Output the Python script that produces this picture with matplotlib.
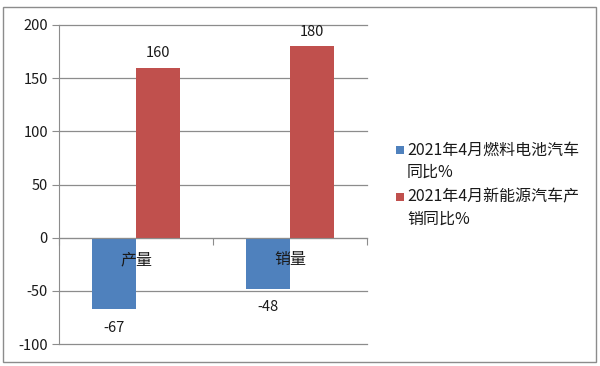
import matplotlib
matplotlib.use("Agg")
import matplotlib.pyplot as plt
from matplotlib.patches import Rectangle
import numpy as np

plt.rcParams['font.family'] = ['Noto Sans CJK SC', 'DejaVu Sans']

# data
categories = ["产量", "销量"]
fuel_cell = [-67, -48]
nev = [160, 180]
series_names = ["2021年4月燃料电池汽车\n同比%", "2021年4月新能源汽车产\n销同比%"]
y_ticks = [-100, -50, 0, 50, 100, 150, 200]

blue = "#4F81BD"
red = "#C0504D"

fig = plt.figure(figsize=(6, 3.66), dpi=100)
fig.patches.append(Rectangle((3 / 600, 1 - 362 / 366), 593 / 600, 355 / 366,
                             transform=fig.transFigure, fill=False,
                             edgecolor="#8c8c8c", linewidth=1.0))

ax = fig.add_axes([59 / 600, 1 - 344 / 366, 308 / 600, 319 / 366])
x = np.arange(len(categories))
w = 1 / 3.5
ax.bar(x - w / 2, fuel_cell, w, color=blue, zorder=3)
ax.bar(x + w / 2, nev, w, color=red, zorder=3)

for i in range(len(categories)):
    ax.text(x[i] - w / 2, fuel_cell[i] - 11, str(fuel_cell[i]), ha="center",
            va="top", fontsize=10.5, color="#1a1a1a")
    ax.text(x[i] + w / 2, nev[i] + 7, str(nev[i]), ha="center",
            va="bottom", fontsize=10.5, color="#1a1a1a")
    ax.text(x[i], -21, categories[i], ha="center", va="center",
            fontsize=11.5, color="#1a1a1a", zorder=4)

ax.set_xlim(-0.5, 1.5)
ax.set_ylim(-100, 200)
ax.set_yticks(y_ticks)
ax.set_yticklabels([str(t) for t in y_ticks], fontsize=10.5, color="#1a1a1a")
ax.yaxis.grid(True, color="#8c8c8c", linewidth=0.9, zorder=0)
ax.set_axisbelow(True)
for gl in ax.get_ygridlines():
    gl.set_clip_on(False)

ax.spines['top'].set_visible(False)
ax.spines['right'].set_visible(False)
ax.spines['left'].set_color("#8c8c8c")
ax.spines['bottom'].set_position(('data', 0))
ax.spines['bottom'].set_color("#8c8c8c")
ax.spines['bottom'].set_zorder(4)
ax.set_xticks([-0.5, 0.5, 1.5])
ax.set_xticklabels(["", "", ""])
ax.tick_params(axis='x', direction='out', length=5, color="#8c8c8c")
ax.tick_params(axis='y', direction='out', length=5, color="#8c8c8c", pad=3)

# legend drawn by hand: square next to the first line of each entry
W, H = 600, 366
entry_top = [150, 197]
line_gap = 22
for k, (name, col) in enumerate(zip(series_names, [blue, red])):
    y0 = entry_top[k]
    fig.patches.append(Rectangle((396 / W, 1 - (y0 + 4) / H), 8 / W, 8 / H,
                                 transform=fig.transFigure, facecolor=col,
                                 edgecolor="none"))
    for j, line in enumerate(name.split("\n")):
        fig.text(407 / W, 1 - (y0 + j * line_gap) / H, line, ha="left",
                 va="center", fontsize=11.5, color="#1a1a1a")

fig.savefig("out.png", dpi=100)
